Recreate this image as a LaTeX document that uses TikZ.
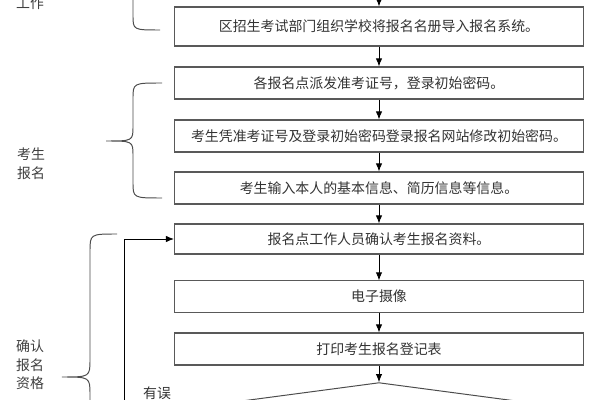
\documentclass[tikz,border=0pt]{standalone}
\usepackage{fontspec}
\newfontfamily\cjk{Noto Sans CJK SC}
\usetikzlibrary{shapes.geometric,arrows.meta}
\tikzset{
  stepbox/.style={draw=black!65, line width=0.8pt, minimum width=10.22cm, minimum height=0.8cm, inner sep=0pt, text=black!80},
  sidetext/.style={align=left, text=black!75, inner sep=0pt},
  brace/.style={draw=black!70, line width=0.7pt},
  flow/.style={->, line width=0.6pt},
}
\begin{document}
\begin{tikzpicture}[x=0.025cm, y=-0.025cm, font=\cjk\fontsize{9.9pt}{13.2pt}\selectfont, >={Latex[length=2mm,width=1.6mm]}]
    \clip (0,0) rectangle (600,400);
    \fill[white] (0,0) rectangle (600,400);
    \begin{scope}

      \node[stepbox, minimum height=0.975cm] (daoru) at (379,26.5) {区招生考试部门组织学校将报名名册导入报名系统。};
      \node[stepbox] (paifa) at (379,83) {各报名点派发准考证号，登录初始密码。};
      \node[stepbox] (xiugai) at (379,136) {考生凭准考证号及登录初始密码登录报名网站修改初始密码。};
      \node[stepbox] (shuru) at (379,188) {考生输入本人的基本信息、简历信息等信息。};
      \node[stepbox, minimum height=0.75cm] (queren) at (379,239) {报名点工作人员确认考生报名资料。};
      \node[stepbox, minimum height=0.78cm] (sheying) at (379,296.5) {电子摄像};
      \node[stepbox] (dayin) at (379,349) {打印考生报名登记表};
      \node[diamond, draw=black!70, line width=0.7pt, aspect=7.5, minimum width=10.25cm, minimum height=1.37cm, inner sep=0pt] (shenhe) at (379,410) {};

      \coordinate (ru) at (379,-20);
      \draw[flow] (ru) -- (daoru.north);
      \foreach \a/\b in {daoru/paifa, paifa/xiugai, xiugai/shuru, shuru/queren, queren/sheying, sheying/dayin, dayin/shenhe}
        \draw[flow] (\a.south) -- (\b.north);

      \coordinate (huitui) at (124,430);
      \draw[flow] (huitui) |- (queren.west);
      \node[text=black!80] (youwu) at (157,393) {有误};

      \draw[brace] (133,-10) -- (133,15) .. controls (133,30) .. (160,30);
      \draw[brace] (162,83) .. controls (133,83) .. (133,99) -- (133,126) .. controls (133,141) .. (106,141) .. controls (133,141) .. (133,156) -- (133,182) .. controls (133,198) .. (162,198);
      \draw[brace] (117,234) .. controls (90,234) .. (90,252) -- (90,359) .. controls (90,377) .. (62,377) .. controls (90,377) .. (90,395) -- (90,440);

      \node[sidetext] (gongzuo) at (30,3) {工作};
      \node[sidetext] (baoming) at (31,163.5) {考生\\报名};
      \node[sidetext] (zige) at (30,365) {确认\\报名\\资格};

    \end{scope}
\end{tikzpicture}
\end{document}
